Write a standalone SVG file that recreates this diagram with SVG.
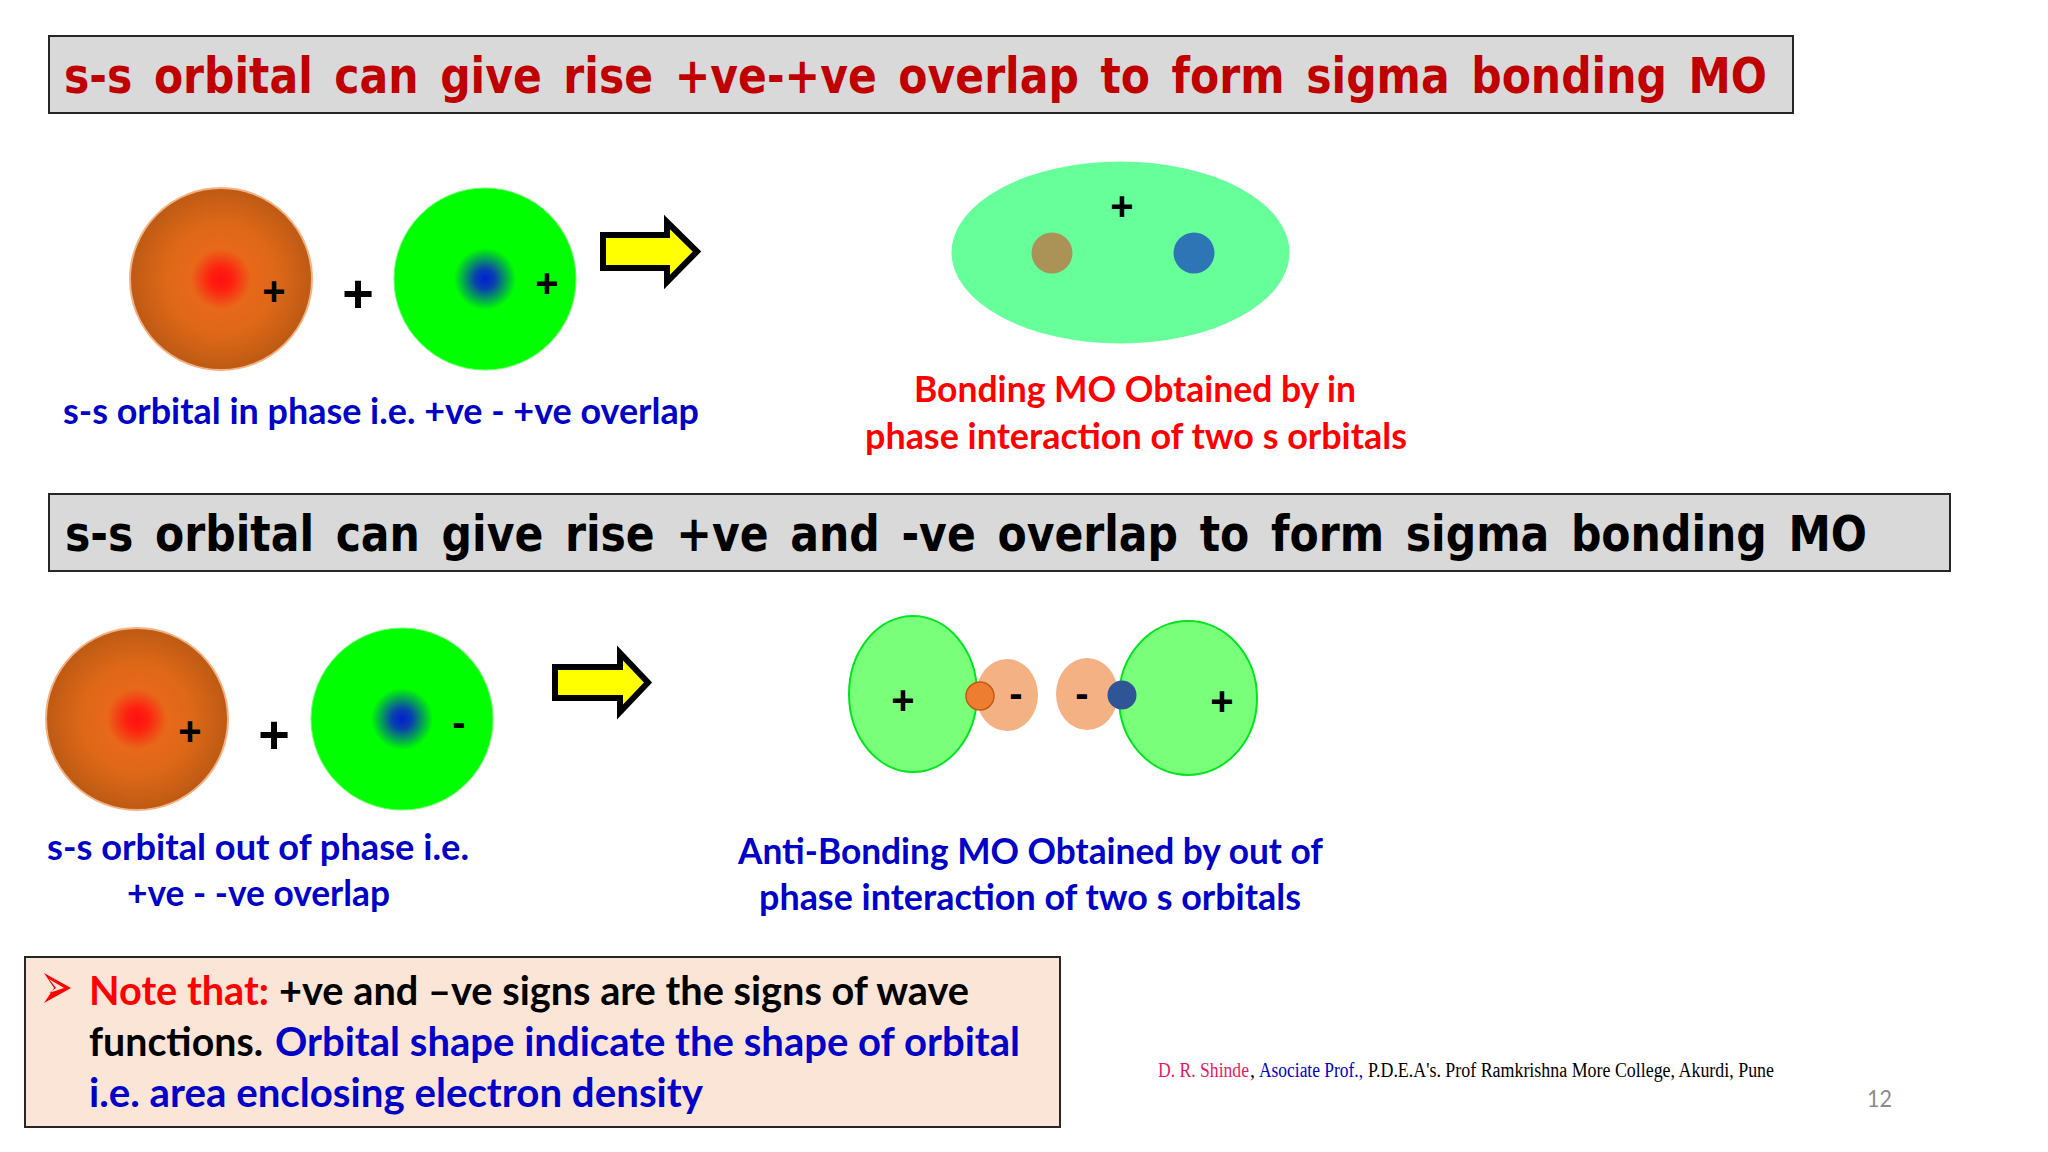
<svg xmlns="http://www.w3.org/2000/svg" width="2048" height="1152" viewBox="0 0 2048 1152">
<style>
.bar{fill:#d9d9d9;stroke:#262626;stroke-width:2}
.title{font-family:"DejaVu Sans",sans-serif;font-weight:700;font-size:50px;word-spacing:8px}
.cap{font-family:Lato,"Open Sans",sans-serif;font-weight:700;font-size:36px}
.note{font-family:Lato,"Open Sans",sans-serif;font-weight:700;font-size:40px}
.foot{font-family:"Liberation Serif",serif;font-size:20px}
.sign{font-family:"Liberation Sans",sans-serif;font-weight:700;text-anchor:middle;fill:#000}
.s{font-size:40px}.b{font-size:54px}
.red{fill:#ff0000}.blue{fill:#0000c8}.dark{fill:#c00000}.blk{fill:#000}
.arrow{fill:#ffff00;stroke:#000;stroke-width:6}
.s1{fill:url(#orange);stroke:#f4b183;stroke-width:2}
.s2{fill:url(#green);stroke:#66ff66;stroke-width:1}
.lobe{fill:#79ff79;stroke:#00e61e;stroke-width:2}
.peach{fill:#f4b183}
</style>
<defs>
<radialGradient id="orange"><stop offset="0" stop-color="#ff1010"/><stop offset=".12" stop-color="#ff1f10"/><stop offset=".33" stop-color="#e8681a"/><stop offset=".6" stop-color="#de6818"/><stop offset="1" stop-color="#bd5a14"/></radialGradient>
<radialGradient id="green"><stop offset="0" stop-color="#0020d0"/><stop offset=".11" stop-color="#0a40b0"/><stop offset=".34" stop-color="#00ff00"/><stop offset="1" stop-color="#00ff00"/></radialGradient>
</defs>
<rect width="2048" height="1152" fill="#fff"/>

<g id="title-1"><rect class="bar" x="49" y="36" width="1744" height="77"/>
<text class="title dark" x="64" y="93" textLength="1703" lengthAdjust="spacingAndGlyphs">s-s orbital can give rise +ve-+ve overlap to form sigma bonding MO</text></g>

<g id="s-orbital-1"><circle class="s1" cx="221" cy="279" r="91"/><text class="sign s" x="274" y="305">+</text></g>
<g id="plus-1"><text class="sign b" x="358" y="312">+</text></g>
<g id="s-orbital-2"><circle class="s2" cx="485" cy="279" r="91"/><text class="sign s" x="547" y="297">+</text></g>
<g id="caption-1"><text class="cap blue" x="63" y="424" textLength="636" lengthAdjust="spacingAndGlyphs">s-s orbital in phase i.e. +ve - +ve overlap</text></g>

<g id="bonding-mo"><ellipse cx="1120.5" cy="252.500" rx="169" ry="91" fill="#66ff99"/>
<circle cx="1052" cy="253" r="20.500" fill="#ab9358"/><circle cx="1194" cy="253" r="20.500" fill="#2e75b6"/>
<text class="sign s" x="1122" y="220">+</text></g>
<g id="caption-2"><text class="cap red" x="914" y="402" textLength="442" lengthAdjust="spacingAndGlyphs">Bonding MO Obtained by in</text>
<text class="cap red" x="865" y="449" textLength="542" lengthAdjust="spacingAndGlyphs">phase interaction of two s orbitals</text></g>

<g id="title-2"><rect class="bar" x="49" y="494" width="1901" height="77"/>
<text class="title blk" x="65" y="551" textLength="1802" lengthAdjust="spacingAndGlyphs">s-s orbital can give rise +ve and -ve overlap to form sigma bonding MO</text></g>

<g id="s-orbital-3"><circle class="s1" cx="137" cy="719" r="91"/><text class="sign s" x="190" y="745">+</text></g>
<g id="plus-2"><text class="sign b" x="274" y="753">+</text></g>
<g id="s-orbital-4"><circle class="s2" cx="402" cy="719" r="91"/><text class="sign s" x="459" y="736">-</text></g>
<g id="caption-3"><text class="cap blue" x="47" y="860" textLength="422" lengthAdjust="spacingAndGlyphs">s-s orbital out of phase i.e.</text>
<text class="cap blue" x="127" y="906" textLength="263" lengthAdjust="spacingAndGlyphs">+ve - -ve overlap</text></g>

<g id="antibonding-mo">
<ellipse class="peach" cx="1007" cy="695" rx="31" ry="36"/><ellipse class="peach" cx="1087" cy="694" rx="31" ry="36"/>
<ellipse class="lobe" cx="913" cy="694" rx="64" ry="78"/><ellipse class="lobe" cx="1188" cy="698" rx="69" ry="77"/>
<circle cx="980" cy="696" r="14" fill="#ed7d31" stroke="#c55a11" stroke-width="1.500"/><circle cx="1122" cy="695" r="14.500" fill="#2f5597"/>
<text class="sign s" x="903" y="714">+</text><text class="sign s" x="1222" y="715">+</text>
<text class="sign s" x="1016" y="707">-</text><text class="sign s" x="1082" y="707">-</text></g>
<g id="caption-4"><text class="cap blue" x="738" y="864" textLength="585" lengthAdjust="spacingAndGlyphs">Anti-Bonding MO Obtained by out of</text>
<text class="cap blue" x="759" y="910" textLength="542" lengthAdjust="spacingAndGlyphs">phase interaction of two s orbitals</text></g>

<g id="connectors">
<path class="arrow" d="M603 235H667V222L697 251.500L667 282V268H603Z"/>
<path class="arrow" d="M555 667H620V653L648 682.500L620 712V698H555Z"/>
</g>

<g id="note"><rect x="25" y="957" width="1035" height="170" fill="#fbe5d6" stroke="#262626" stroke-width="2"/>
<path d="M44 973L71 988L44 1003L54 988Z M49 979L56 988L49 993L64 988Z" fill="#ff0000" fill-rule="evenodd"/>
<text class="note red" x="89" y="1005" textLength="180" lengthAdjust="spacingAndGlyphs">Note that:</text>
<text class="note blk" x="279" y="1005" textLength="690" lengthAdjust="spacingAndGlyphs">+ve and –ve signs are the signs of wave</text>
<text class="note blk" x="89" y="1056" textLength="174" lengthAdjust="spacingAndGlyphs">functions.</text>
<text class="note blue" x="275" y="1056" textLength="745" lengthAdjust="spacingAndGlyphs">Orbital shape indicate the shape of orbital</text>
<text class="note blue" x="89" y="1107" textLength="614" lengthAdjust="spacingAndGlyphs">i.e. area enclosing electron density</text></g>

<g id="footer">
<text class="foot" x="1158" y="1077" fill="#e6195f" textLength="91" lengthAdjust="spacingAndGlyphs">D. R. Shinde</text>
<text class="foot blk" x="1250" y="1077">,</text>
<text class="foot blue" x="1259" y="1077" textLength="104" lengthAdjust="spacingAndGlyphs">Asociate Prof.,</text>
<text class="foot blk" x="1368" y="1077" textLength="406" lengthAdjust="spacingAndGlyphs">P.D.E.A's. Prof Ramkrishna More College, Akurdi, Pune</text>
<text x="1867" y="1107" font-family="Lato,sans-serif" font-size="24" fill="#8b8b8b" textLength="25" lengthAdjust="spacingAndGlyphs">12</text>
</g>
</svg>
